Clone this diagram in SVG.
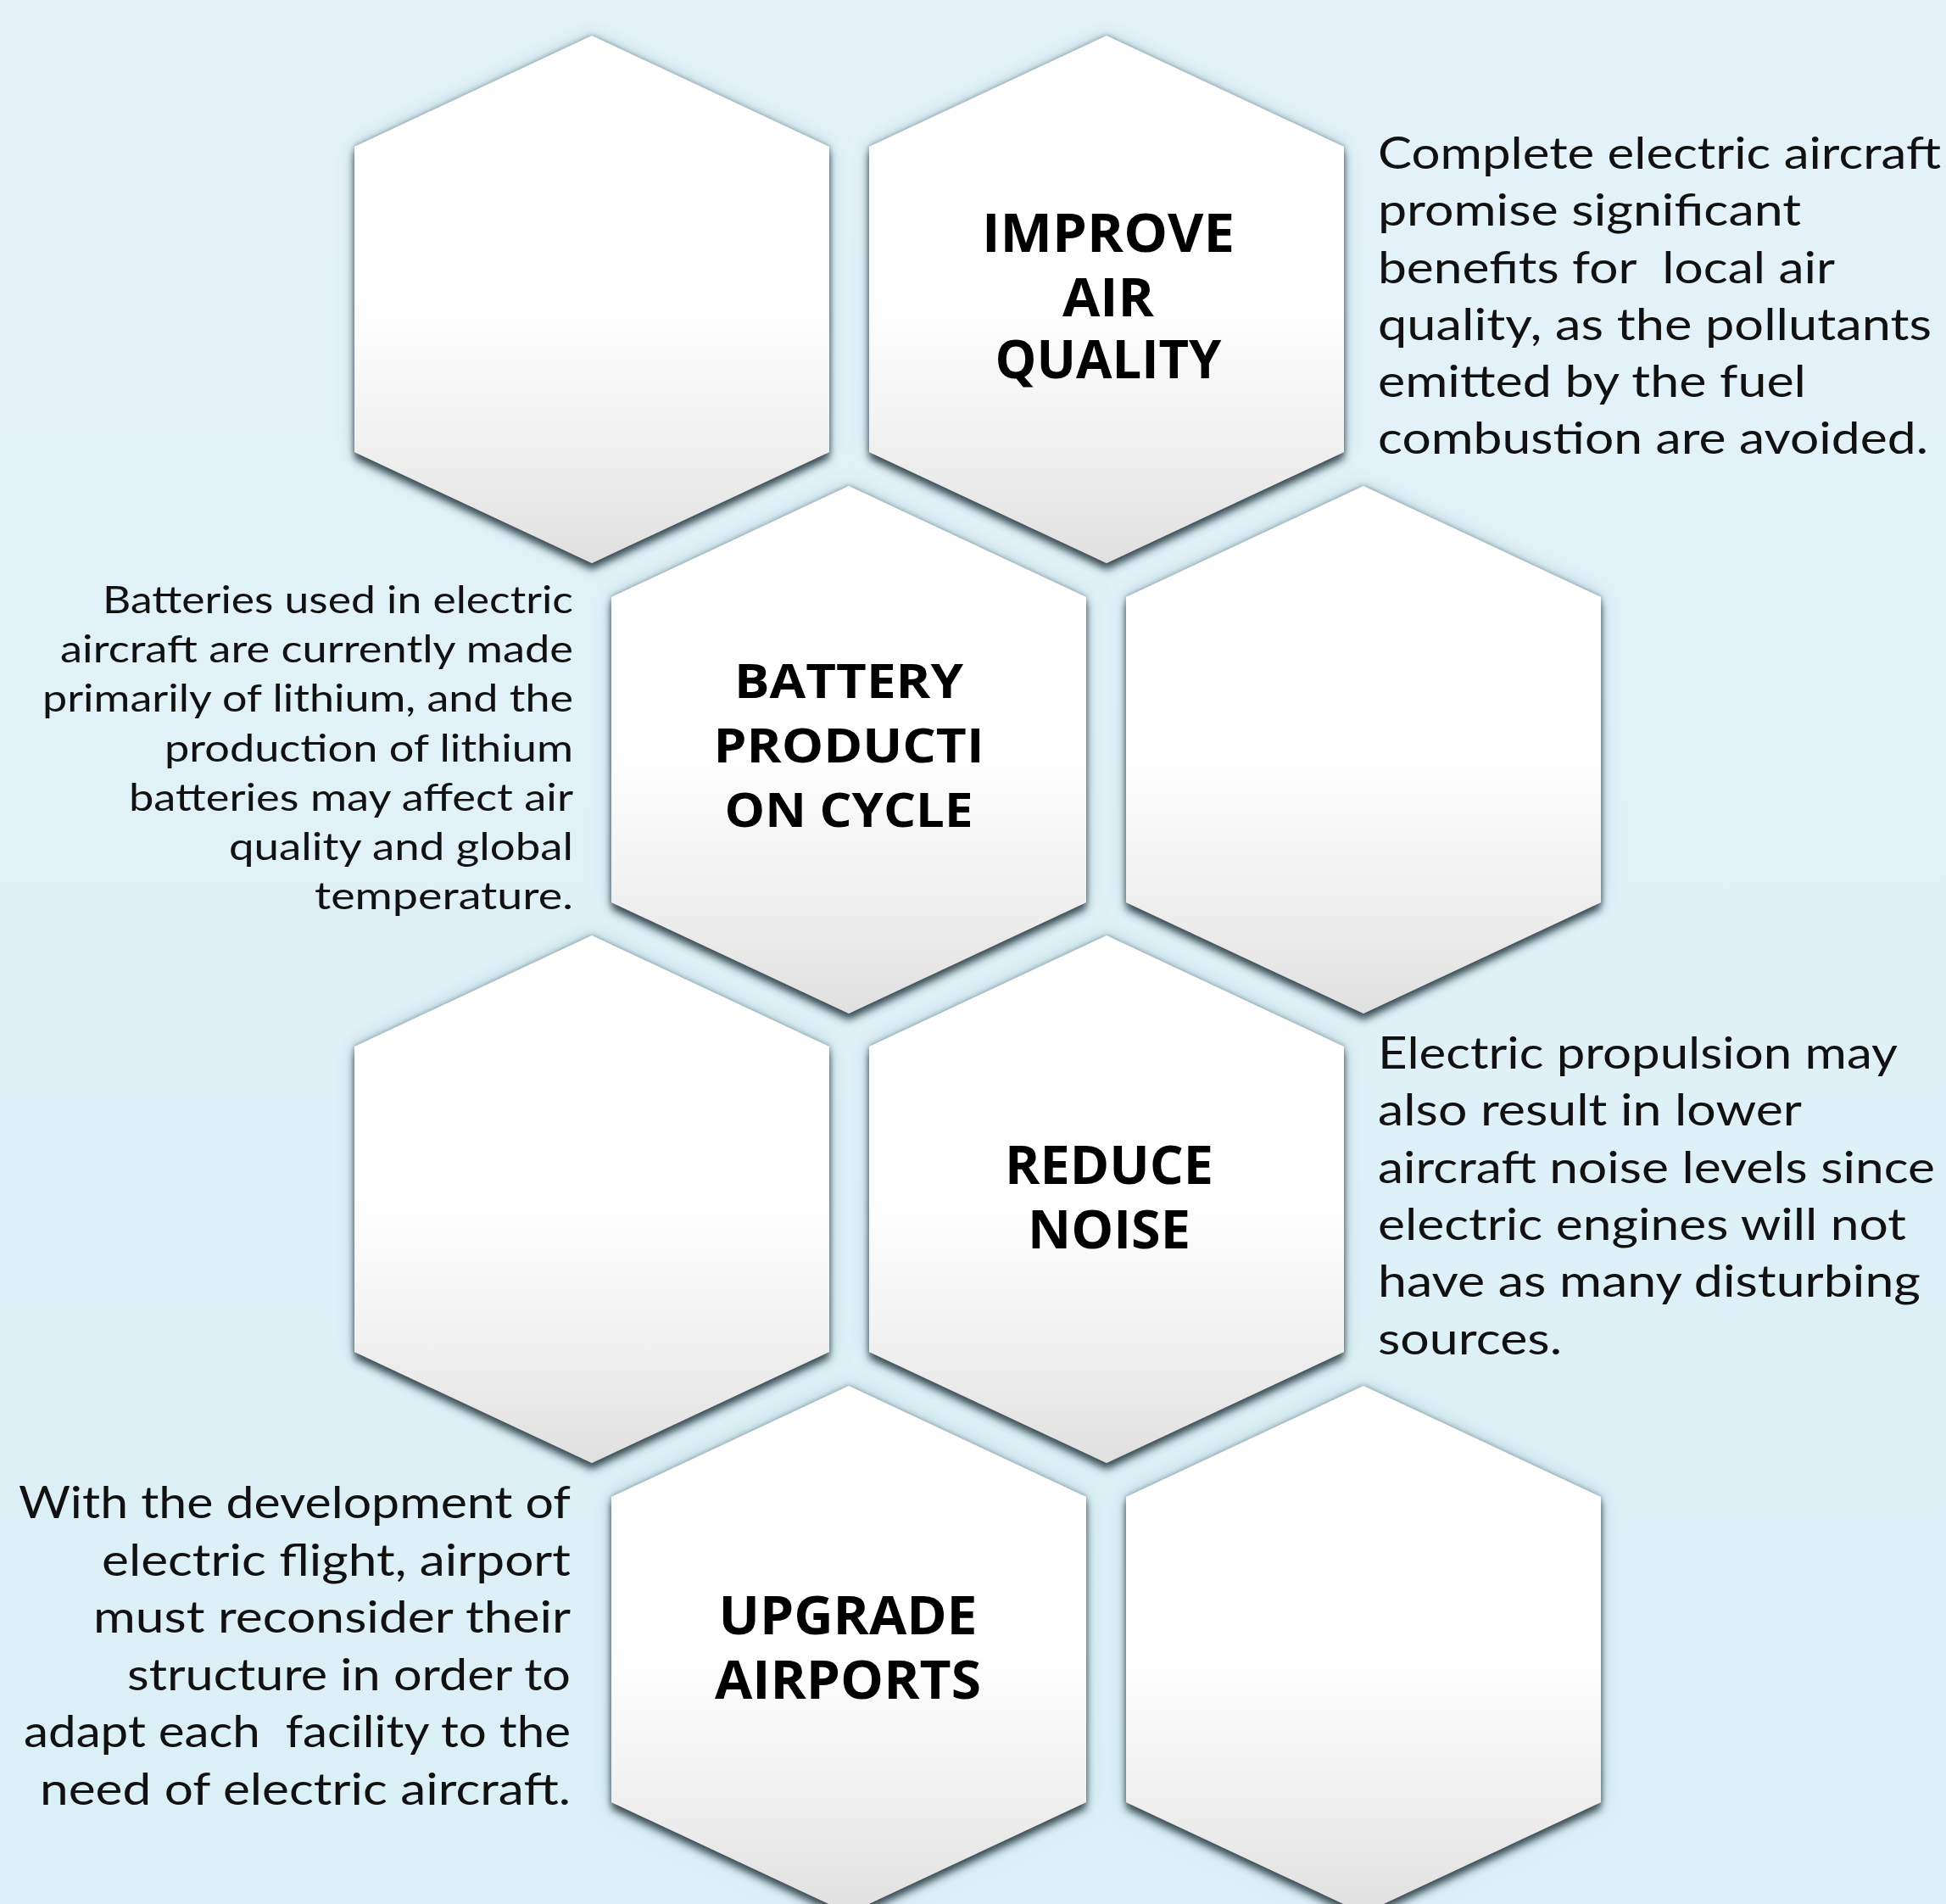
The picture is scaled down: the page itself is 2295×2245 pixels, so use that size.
<svg xmlns="http://www.w3.org/2000/svg" xmlns:xlink="http://www.w3.org/1999/xlink" width="2295" height="2245" viewBox="0 0 2295 2245">
  <defs>
    <linearGradient id="bg" x1="0" y1="0" x2="0" y2="1">
      <stop offset="0" stop-color="#e4f3f9"/>
      <stop offset="1" stop-color="#dbeff6"/>
    </linearGradient>
    <linearGradient id="hexFill" x1="0" y1="0" x2="0" y2="1">
      <stop offset="0" stop-color="#ffffff"/>
      <stop offset="0.5" stop-color="#ffffff"/>
      <stop offset="0.75" stop-color="#f2f2f2"/>
      <stop offset="1" stop-color="#e0e0e0"/>
    </linearGradient>
    <filter id="hexShadow" x="-15%" y="-12%" width="130%" height="130%">
      <feGaussianBlur in="SourceAlpha" stdDeviation="12" result="wide"/>
      <feFlood flood-color="#a2bfcb" flood-opacity="0.65"/>
      <feComposite in2="wide" operator="in" result="glow"/>
      <feGaussianBlur in="SourceAlpha" stdDeviation="3" result="tight"/>
      <feFlood flood-color="#6f848d" flood-opacity="0.9"/>
      <feComposite in2="tight" operator="in" result="rim"/>
      <feGaussianBlur in="SourceAlpha" stdDeviation="5" result="soft"/>
      <feOffset in="soft" dy="8" result="drop"/>
      <feFlood flood-color="#34464e" flood-opacity="0.95"/>
      <feComposite in2="drop" operator="in" result="shadow"/>
      <feMerge>
        <feMergeNode in="glow"/>
        <feMergeNode in="rim"/>
        <feMergeNode in="shadow"/>
        <feMergeNode in="SourceGraphic"/>
      </feMerge>
    </filter>
    <!-- hexagon centred on x=0, top vertex at y=0 -->
    <path id="hex" d="M0,0 L280,131 L280,491 L0,622 L-280,491 L-280,131 Z"/>
  </defs>
  <style>
    .hex { fill: url(#hexFill); filter: url(#hexShadow); }
    .label { font-family: "Open Sans", "DejaVu Sans", sans-serif; font-weight: 700; fill: #000000; text-anchor: middle; }
    .desc { font-family: Lato, "Liberation Sans", sans-serif; fill: #111111; }
    .right { text-anchor: end; }
  </style>

  <rect x="0" y="0" width="2295" height="2245" fill="url(#bg)"/>

  <!-- row 1 -->
  <g id="hex-r1-left"><use xlink:href="#hex" href="#hex" x="698" y="42" class="hex"/></g>
  <g id="improve-air-quality">
    <use xlink:href="#hex" href="#hex" x="1305" y="42" class="hex"/>
    <text class="label" font-size="62" x="1307" y="297" textLength="298" lengthAdjust="spacingAndGlyphs">IMPROVE</text>
    <text class="label" font-size="62" x="1307" y="373" textLength="108" lengthAdjust="spacingAndGlyphs">AIR</text>
    <text class="label" font-size="62" x="1307" y="446" textLength="267" lengthAdjust="spacingAndGlyphs">QUALITY</text>
  </g>

  <!-- row 2 -->
  <g id="battery-production-cycle">
    <use xlink:href="#hex" href="#hex" x="1001" y="573" class="hex"/>
    <text class="label" font-size="56" x="1001" y="823" textLength="270" lengthAdjust="spacingAndGlyphs">BATTERY</text>
    <text class="label" font-size="56" x="1001" y="899" textLength="319" lengthAdjust="spacingAndGlyphs">PRODUCTI</text>
    <text class="label" font-size="56" x="1001" y="975" textLength="293" lengthAdjust="spacingAndGlyphs">ON CYCLE</text>
  </g>
  <g id="hex-r2-right"><use xlink:href="#hex" href="#hex" x="1608" y="573" class="hex"/></g>

  <!-- row 3 -->
  <g id="hex-r3-left"><use xlink:href="#hex" href="#hex" x="698" y="1103" class="hex"/></g>
  <g id="reduce-noise">
    <use xlink:href="#hex" href="#hex" x="1305" y="1103" class="hex"/>
    <text class="label" font-size="62" x="1308" y="1396" textLength="246" lengthAdjust="spacingAndGlyphs">REDUCE</text>
    <text class="label" font-size="62" x="1308" y="1472" textLength="192" lengthAdjust="spacingAndGlyphs">NOISE</text>
  </g>

  <!-- row 4 -->
  <g id="upgrade-airports">
    <use xlink:href="#hex" href="#hex" x="1001" y="1634" class="hex"/>
    <text class="label" font-size="62" x="1000" y="1927" textLength="305" lengthAdjust="spacingAndGlyphs">UPGRADE</text>
    <text class="label" font-size="62" x="1000" y="2003" textLength="314" lengthAdjust="spacingAndGlyphs">AIRPORTS</text>
  </g>
  <g id="hex-r4-right"><use xlink:href="#hex" href="#hex" x="1608" y="1634" class="hex"/></g>

  <!-- descriptions -->
  <g id="desc-air-quality" class="desc" font-size="52">
    <text x="1625" y="199" textLength="664" lengthAdjust="spacingAndGlyphs">Complete electric aircraft</text>
    <text x="1625" y="266" textLength="499" lengthAdjust="spacingAndGlyphs">promise significant</text>
    <text x="1625" y="334" textLength="539" lengthAdjust="spacingAndGlyphs">benefits for&#160; local air</text>
    <text x="1625" y="401" textLength="653" lengthAdjust="spacingAndGlyphs">quality, as the pollutants</text>
    <text x="1625" y="468" textLength="505" lengthAdjust="spacingAndGlyphs">emitted by the fuel</text>
    <text x="1625" y="535" textLength="649" lengthAdjust="spacingAndGlyphs">combustion are avoided.</text>
  </g>

  <g id="desc-battery" class="desc right" font-size="45">
    <text x="676" y="723" textLength="555" lengthAdjust="spacingAndGlyphs">Batteries used in electric</text>
    <text x="676" y="781" textLength="605" lengthAdjust="spacingAndGlyphs">aircraft are currently made</text>
    <text x="676" y="839" textLength="626" lengthAdjust="spacingAndGlyphs">primarily of lithium, and the</text>
    <text x="676" y="898" textLength="482" lengthAdjust="spacingAndGlyphs">production of lithium</text>
    <text x="676" y="956" textLength="524" lengthAdjust="spacingAndGlyphs">batteries may affect air</text>
    <text x="676" y="1014" textLength="406" lengthAdjust="spacingAndGlyphs">quality and global</text>
    <text x="676" y="1072" textLength="305" lengthAdjust="spacingAndGlyphs">temperature.</text>
  </g>

  <g id="desc-noise" class="desc" font-size="52">
    <text x="1625" y="1260" textLength="613" lengthAdjust="spacingAndGlyphs">Electric propulsion may</text>
    <text x="1625" y="1327" textLength="500" lengthAdjust="spacingAndGlyphs">also result in lower</text>
    <text x="1625" y="1395" textLength="657" lengthAdjust="spacingAndGlyphs">aircraft noise levels since</text>
    <text x="1625" y="1462" textLength="623" lengthAdjust="spacingAndGlyphs">electric engines will not</text>
    <text x="1625" y="1529" textLength="640" lengthAdjust="spacingAndGlyphs">have as many disturbing</text>
    <text x="1625" y="1597" textLength="217" lengthAdjust="spacingAndGlyphs">sources.</text>
  </g>

  <g id="desc-airports" class="desc right" font-size="52">
    <text x="673" y="1790" textLength="651" lengthAdjust="spacingAndGlyphs">With the development of</text>
    <text x="673" y="1858" textLength="553" lengthAdjust="spacingAndGlyphs">electric flight, airport</text>
    <text x="673" y="1925" textLength="563" lengthAdjust="spacingAndGlyphs">must reconsider their</text>
    <text x="673" y="1993" textLength="523" lengthAdjust="spacingAndGlyphs">structure in order to</text>
    <text x="673" y="2060" textLength="645" lengthAdjust="spacingAndGlyphs">adapt each&#160; facility to the</text>
    <text x="673" y="2128" textLength="626" lengthAdjust="spacingAndGlyphs">need of electric aircraft.</text>
  </g>

  <!-- no connectors in this layout -->
  <g id="connectors"/>
</svg>
